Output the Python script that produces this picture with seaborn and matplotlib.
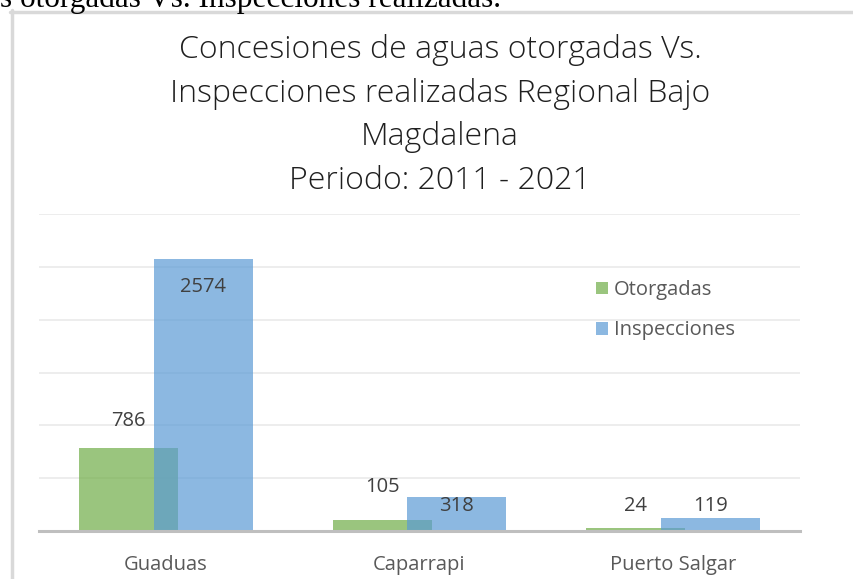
import pandas as pd
import seaborn as sns
import matplotlib.pyplot as plt
from matplotlib.lines import Line2D

# datos
municipios = ['Guaduas', 'Caparrapi', 'Puerto Salgar']
otorgadas = [786, 105, 24]
inspecciones = [2574, 318, 119]
series = ['Otorgadas', 'Inspecciones']

# posicion (eje y) de las etiquetas, como en el original
lbl_y_otorgadas = [1045, 420, 240]
lbl_y_inspecciones = [2305, 240, 240]

titulo = ['Concesiones de aguas otorgadas Vs.',
          'Inspecciones realizadas Regional Bajo',
          'Magdalena',
          'Periodo: 2011 - 2021']

df = pd.DataFrame({
    'municipio': municipios * 2,
    'serie': [series[0]] * 3 + [series[1]] * 3,
    'valor': otorgadas + inspecciones,
})

sns.set_theme(style='white')
plt.rcParams['font.family'] = ['Open Sans', 'DejaVu Sans']

W, H = 854, 579
fig = plt.figure(figsize=(W / 100, H / 100), dpi=100)
fig.patch.set_facecolor('white')

# area de grafica: x 39..800, y 214..531 (px)
ax = fig.add_axes([39 / W, 1 - 531 / H, (800 - 39) / W, (531 - 214) / H])

palette = {'Otorgadas': '#70AD47', 'Inspecciones': '#5B9BD5'}
sns.barplot(data=df, x='municipio', y='valor', hue='serie', hue_order=series,
            order=municipios, palette=palette, saturation=1, alpha=0.7,
            width=0.59, linewidth=0, ax=ax)

# barras superpuestas (overlap tipo Excel)
bar_w = 0.39
for p in ax.patches:
    if p.get_height() == 0 and p.get_width() == 0:
        continue
    cx = p.get_x() + p.get_width() / 2
    p.set_width(bar_w)
    p.set_x(cx - bar_w / 2)

ax.set_ylim(0, 3000)
ax.set_xlim(-0.5, 2.5)
ax.set_yticks(range(0, 3001, 500))
ax.yaxis.grid(True, color='#ececec', linewidth=1.3)
ax.set_axisbelow(True)
ax.tick_params(axis='y', left=False, labelleft=False)
ax.tick_params(axis='x', bottom=False, pad=11, labelsize=14.5, labelcolor='#595959')
for s in ['top', 'right', 'left']:
    ax.spines[s].set_visible(False)
ax.spines['bottom'].set_color('#bfbfbf')
ax.spines['bottom'].set_linewidth(2.2)
ax.set_xlabel('')
ax.set_ylabel('')

# etiquetas de datos
bars = [p for p in ax.patches if p.get_width() > 0]
for i, p in enumerate(bars[:3]):
    ax.text(p.get_x() + p.get_width() / 2, lbl_y_otorgadas[i], str(otorgadas[i]),
            ha='center', va='center', fontsize=14.5, color='#404040')
for i, p in enumerate(bars[3:6]):
    ax.text(p.get_x() + p.get_width() / 2, lbl_y_inspecciones[i], str(inspecciones[i]),
            ha='center', va='center', fontsize=14.5, color='#404040')

# leyenda
handles, labels = ax.get_legend_handles_labels()
ax.legend(handles, labels, loc='upper left', bbox_to_anchor=(586 / W, 1 - 270 / H),
          bbox_transform=fig.transFigure, frameon=False, fontsize=14.5,
          borderpad=0, handlelength=0.6, handleheight=0.6, handletextpad=0.3,
          labelspacing=1.0, labelcolor='#595959')

# titulo (una linea por texto)
for k, linea in enumerate(titulo):
    fig.text(440 / W, 1 - (58 + 43.7 * k) / H, linea, ha='center', va='baseline',
             fontsize=23, fontweight='light', color='#1f1f1f')

# texto del documento cortado arriba
fig.text(0, 1 - 7 / H, 's otorgadas Vs. Inspecciones realizadas.',
         ha='left', va='baseline', fontsize=22.5, family='Liberation Serif', color='black')

# marco del grafico
fig.add_artist(Line2D([12 / W, 12 / W], [0, 1 - 10 / H], transform=fig.transFigure,
                      color='#d9d9d9', linewidth=2.5))
fig.add_artist(Line2D([10.5 / W, 1], [1 - 11.5 / H, 1 - 11.5 / H], transform=fig.transFigure,
                      color='#d9d9d9', linewidth=2.5))

fig.savefig('out.png', dpi=100)
